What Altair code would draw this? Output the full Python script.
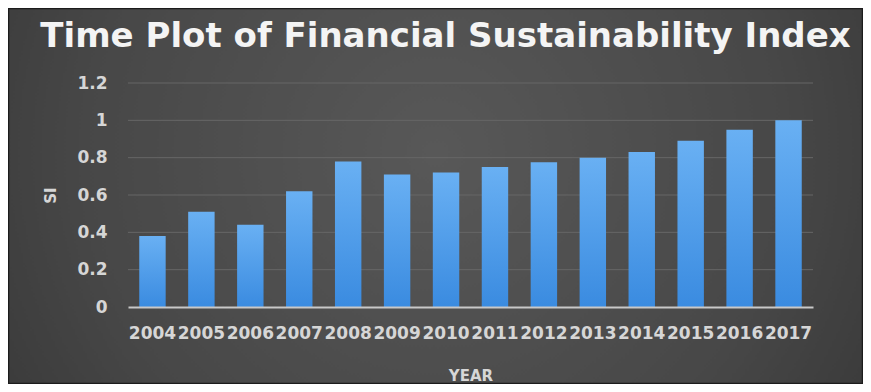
import altair as alt
import pandas as pd

title_text = ["Time Plot of Financial Sustainability Index"]
years = ["2004", "2005", "2006", "2007", "2008", "2009", "2010",
         "2011", "2012", "2013", "2014", "2015", "2016", "2017"]
si = [0.38, 0.51, 0.44, 0.62, 0.78, 0.71, 0.72,
      0.75, 0.775, 0.80, 0.83, 0.89, 0.95, 1.00]
y_ticks = [0, 0.2, 0.4, 0.6, 0.8, 1, 1.2]
grid_vals = [0.2, 0.4, 0.6, 0.8, 1, 1.2]

df = pd.DataFrame({"YEAR": years, "SI": si})
grid_df = pd.DataFrame({"SI": grid_vals})
title_df = pd.DataFrame({"t": title_text})

W, H = 685, 224
PL, PT, PR, PB = 120, 75, 50, 77

y_scale = alt.Scale(domain=[0, 1.2], nice=False)
y_axis = alt.Axis(title="SI", values=y_ticks, format="~g", grid=False,
                  domain=False, ticks=False, labelPadding=21,
                  titlePadding=18, zindex=1)

bg = alt.Chart(pd.DataFrame({"a": [0]})).mark_rect(
    fill=alt.RadialGradient(
        gradient="radial", x1=0.5, y1=0.45, r1=0, x2=0.5, y2=0.45, r2=0.75,
        stops=[alt.GradientStop(color="#585858", offset=0),
               alt.GradientStop(color="#474747", offset=0.55),
               alt.GradientStop(color="#2e2e2e", offset=1)]),
    stroke="#1c1c1c", strokeWidth=1.5,
).encode(
    x=alt.value(-PL + 0.5), x2=alt.value(W + PR - 0.5),
    y=alt.value(-PT + 0.5), y2=alt.value(H + PB - 0.5),
)

title = alt.Chart(title_df).mark_text(
    font="DejaVu Sans", fontSize=34, fontWeight="bold", color="#f4f4f4",
    align="center", baseline="alphabetic",
).encode(text="t:N", x=alt.value(W / 2 - 25), y=alt.value(-36))

grid = alt.Chart(grid_df).mark_rule(color="#676767", strokeWidth=1).encode(
    y=alt.Y("SI:Q", scale=y_scale, axis=y_axis)
)

bars = alt.Chart(df).mark_bar(
    color=alt.LinearGradient(
        gradient="linear", x1=0, y1=0, x2=0, y2=1,
        stops=[alt.GradientStop(color="#69b0f3", offset=0),
               alt.GradientStop(color="#3a8be0", offset=1)]),
).encode(
    x=alt.X("YEAR:N", sort=years,
            scale=alt.Scale(paddingInner=0.46, paddingOuter=0.23),
            axis=alt.Axis(title="YEAR", labelAngle=0, ticks=False,
                          labelOverlap=False,
                          domainColor="#c8c8c8", domainWidth=2,
                          labelPadding=18, titlePadding=27, zindex=1)),
    y=alt.Y("SI:Q", scale=y_scale, axis=y_axis),
)

chart = alt.layer(bg, title, grid, bars).properties(
    width=W, height=H,
    autosize=alt.AutoSizeParams(type="none"),
    padding={"left": PL, "top": PT, "right": PR, "bottom": PB},
    background="#3a3a3a",
).configure_view(stroke=None).configure_axis(
    labelFont="DejaVu Sans", labelFontWeight="bold", labelColor="#d6d6d6",
    titleFont="DejaVu Sans", titleFontWeight="bold", titleColor="#d6d6d6",
    labelFontSize=17, titleFontSize=15,
).configure_axisX(labelFontSize=17)

chart.save("out.html", embed_options={"renderer": "svg", "actions": False})
